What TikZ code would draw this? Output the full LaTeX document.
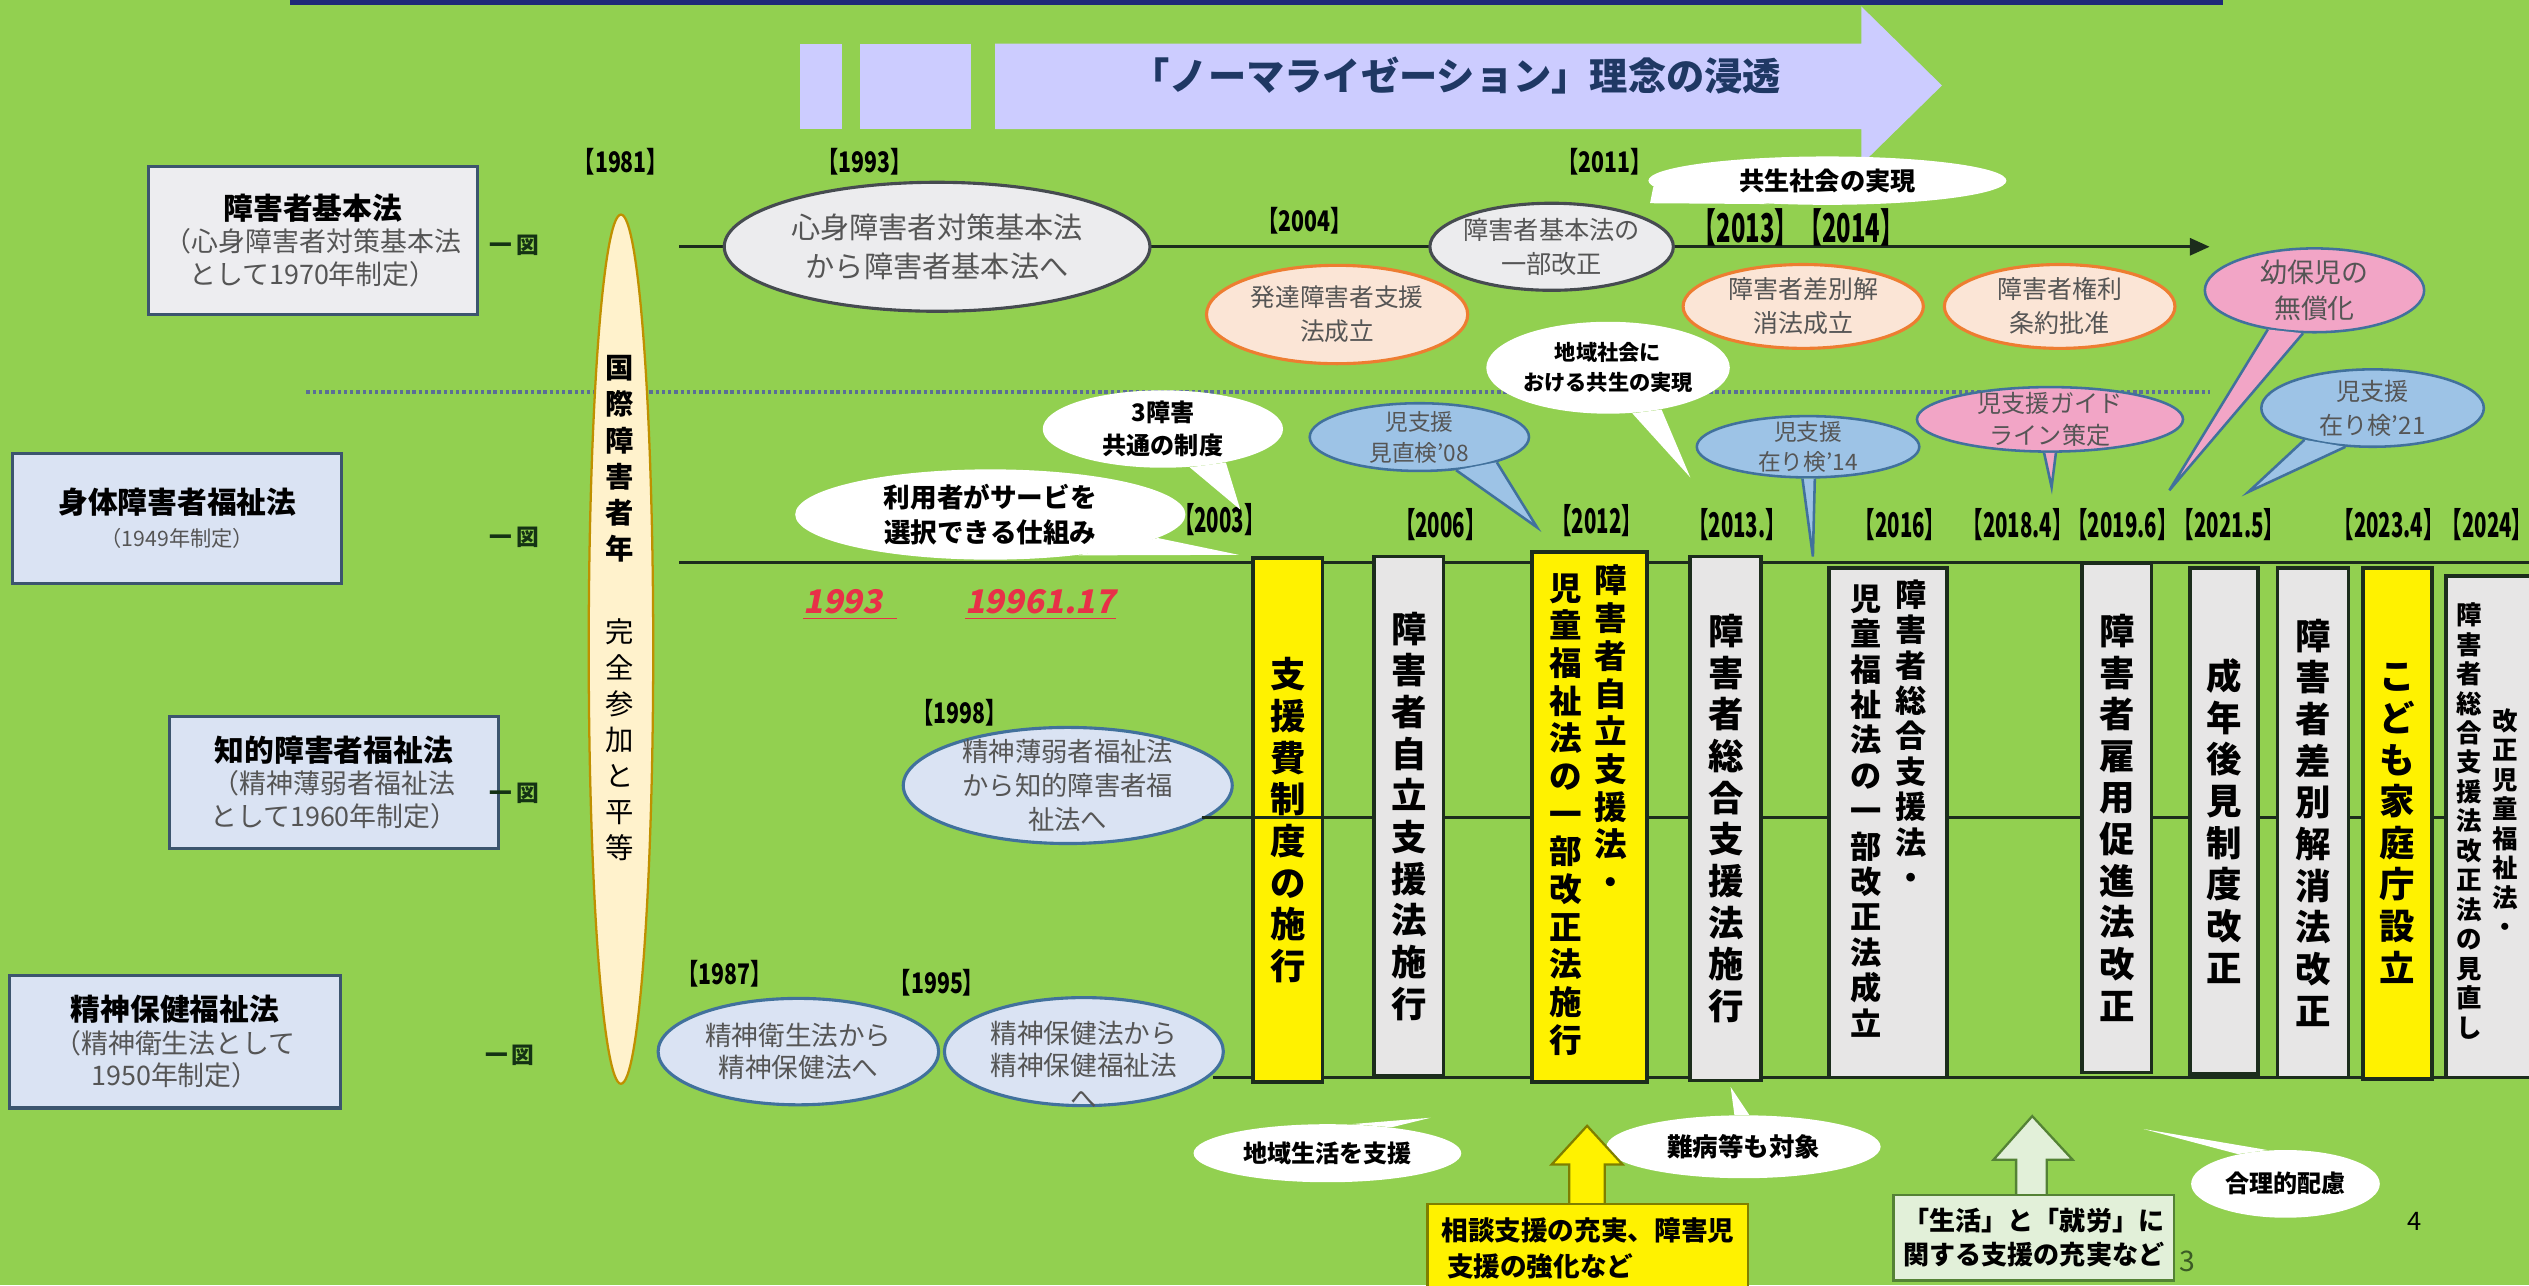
\documentclass[tikz,border=0pt]{standalone}
\usepackage{fontspec}
\setmainfont{Noto Sans CJK JP}
\newfontfamily\yrw[FakeStretch=0.75]{Noto Sans CJK JP}
\newfontfamily\yrn[FakeStretch=0.6]{Noto Sans CJK JP}
\newfontfamily\redit[FakeSlant=0.2]{Noto Sans CJK JP}
\usetikzlibrary{shapes.geometric,arrows.meta}

\definecolor{bggreen}{RGB}{146,208,80}
\definecolor{navy}{RGB}{30,42,120}
\definecolor{navytxt}{RGB}{31,56,100}
\definecolor{banner}{RGB}{204,204,255}
\definecolor{boxgray}{RGB}{237,237,240}
\definecolor{boxblue}{RGB}{218,227,243}
\definecolor{lawline}{RGB}{60,85,110}
\definecolor{cream}{RGB}{255,242,204}
\definecolor{gold}{RGB}{191,144,0}
\definecolor{elfill}{RGB}{236,236,238}
\definecolor{elline}{RGB}{70,75,80}
\definecolor{peach}{RGB}{251,229,214}
\definecolor{orangeline}{RGB}{237,125,49}
\definecolor{skyblue}{RGB}{157,195,230}
\definecolor{blueline}{RGB}{65,113,156}
\definecolor{pinkfill}{RGB}{242,165,198}
\definecolor{barline}{RGB}{28,45,28}
\definecolor{bargray}{RGB}{231,230,230}
\definecolor{textgray}{RGB}{85,85,85}
\definecolor{redtxt}{RGB}{232,48,72}
\definecolor{palegreen}{RGB}{226,240,217}
\definecolor{greenline}{RGB}{84,130,53}
\definecolor{olivec}{RGB}{127,127,0}
\definecolor{dotc}{RGB}{90,110,150}
\definecolor{darkmark}{RGB}{20,50,20}

\newcommand{\fz}[2]{\fontsize{#1}{#2}\selectfont}
% vertical text: one character per line
\def\vtscan#1{\ifx#1\relax\else\hbox to 1em{\hss#1\hss}\expandafter\vtscan\fi}
\newcommand{\vt}[1]{\vbox{\vtscan#1\relax}}
% speech bubble: style, name, centre, width, height, tail angles, tail tip
\newcommand{\callout}[8]{\node[ellipse,#1,minimum width=#4cm,minimum height=#5cm] (#2) at (#3) {};
  \path[#1] (#2.#6) -- (#8) -- (#2.#7);}

\tikzset{
  lawgray/.style={draw=lawline,line width=1.1pt,fill=boxgray,inner sep=0pt,align=center,text=textgray,font=\fz{9.5}{11.5}},
  lawblue/.style={lawgray,fill=boxblue},
  elgray/.style={draw=elline,line width=1.1pt,fill=elfill},
  elpeach/.style={draw=orangeline,line width=1.1pt,fill=peach},
  elblue/.style={draw=blueline,line width=1.1pt,fill=boxblue},
  wcall/.style={fill=white},
  bcall/.style={draw=blueline,line width=0.9pt,fill=skyblue},
  pcall/.style={draw=blueline,line width=0.9pt,fill=pinkfill},
  gt/.style 2 args={text=textgray,align=center,inner sep=0pt,font=\fz{#1}{#2}},
  bt/.style 2 args={text=black,align=center,inner sep=0pt,font=\fz{#1}{#2}\bfseries},
  vtx/.style 2 args={inner sep=0pt,font=\fz{#1}{#2}\bfseries},
  vtn/.style 2 args={inner sep=0pt,font=\fz{#1}{#2}},
  ybar/.style={draw=barline,line width=1.3pt,fill=yellow,inner sep=0pt,font=\fz{12.5}{14.7}\bfseries},
  gbar/.style={ybar,fill=bargray},
  yt/.style={inner sep=0pt,font=\yrw\fz{10}{10}\bfseries},
  yb/.style={inner sep=0pt,font=\yrn\fz{12}{12}\bfseries},
  tl/.style={draw=barline,line width=1.1pt},
  dashbox/.style={inner sep=0pt,text=darkmark,font=\fz{8}{8}\bfseries},
  redyr/.style={inner sep=0pt,text=redtxt,font=\redit\fz{11.5}{12}\bfseries},
}

\begin{document}
\begin{tikzpicture}[x=0.02cm,y=-0.02cm]
  \useasboundingbox (0,0) rectangle (1568,797);
  \fill[bggreen] (0,0) rectangle (1568,797);
  \fill[navy] (180,-3) rectangle (1378,3);

  % banner
  \fill[banner] (496,27) rectangle (522,80);
  \fill[banner] (533,27) rectangle (602,80);
  \fill[banner] (617,27) -- (1154,27) -- (1154,4) -- (1204,53) -- (1154,102) -- (1154,80) -- (617,80) -- cycle;
  \node[text=navytxt,font=\fz{13.5}{14}\bfseries] (norm) at (903,47) {「ノーマライゼーション」理念の浸透};

  % time lines
  \coordinate (d0) at (190,243); \coordinate (d1) at (1370,243);
  \draw[dotc,densely dotted,line width=1.2pt] (d0) -- (d1);
  \coordinate (t0) at (421,153); \coordinate (t1) at (1370,153);
  \draw[tl,-{Triangle[length=7pt,width=6pt]}] (t0) -- (t1);
  \coordinate (s0) at (421,349); \coordinate (s1) at (1580,349);
  \draw[tl] (s0) -- (s1);
  \coordinate (m0) at (745,507); \coordinate (m1) at (1580,507); \coordinate (m2) at (852,507);
  \draw[tl] (m0) -- (m1);
  \coordinate (u0) at (752,668); \coordinate (u1) at (1580,668);
  \draw[tl] (u0) -- (u1);

  % laws
  \node[lawgray,minimum width=4.08cm,minimum height=1.84cm] (kihon) at (194,149)
    {{\color{black}\fz{10.5}{13}\bfseries 障害者基本法}\\（心身障害者対策基本法\\として1970年制定）};
  \node[lawblue,minimum width=4.08cm,minimum height=1.62cm] (shintai) at (110,321.5)
    {{\color{black}\fz{10.5}{13}\bfseries 身体障害者福祉法}\\{\fz{7.5}{9}（1949年制定）}};
  \node[lawblue,minimum width=4.08cm,minimum height=1.64cm] (chiteki) at (207,485)
    {{\color{black}\fz{10.5}{13}\bfseries 知的障害者福祉法}\\（精神薄弱者福祉法\\として1960年制定）};
  \node[lawblue,minimum width=4.1cm,minimum height=1.64cm] (seishin) at (108.5,646)
    {{\color{black}\fz{10.5}{13}\bfseries 精神保健福祉法}\\（精神衛生法として\\1950年制定）};
  \node[dashbox] (k1) at (319,152) {一\,図};
  \node[dashbox] (k2) at (319,333) {一\,図};
  \node[dashbox] (k3) at (319,492) {一\,図};
  \node[dashbox] (k4) at (316,654) {一\,図};

  % international year
  \node[ellipse,draw=gold,line width=0.8pt,fill=cream,minimum width=0.8cm,minimum height=10.78cm] (iyp) at (385,402.5) {};
  \node[vtx={10}{12.8},anchor=north] (iypa) at (384,220) {\vt{国際障害者年}};
  \node[vtn={10}{12.7},anchor=north] (iypb) at (384,383) {\vt{完全参加と平等}};

  % upper events
  \node[ellipse,elgray,minimum width=5.28cm,minimum height=1.6cm] (e1993) at (581,153) {};
  \node[gt={10.3}{13.6}] (e1993t) at (e1993) {心身障害者対策基本法\\から障害者基本法へ};
  \node[ellipse,elpeach,minimum width=3.24cm,minimum height=1.22cm] (e2004) at (829,195) {};
  \node[gt={8.7}{12}] (e2004t) at (e2004) {発達障害者支援\\法成立};
  \node[ellipse,elgray,minimum width=3.02cm,minimum height=1.08cm] (e2011) at (962,153) {};
  \node[gt={8.9}{12}] (e2011t) at (e2011) {障害者基本法の\\一部改正};
  \node[ellipse,elpeach,minimum width=2.98cm,minimum height=1.04cm] (e2013) at (1118,190) {};
  \node[gt={8.8}{12}] (e2013t) at (e2013) {障害者差別解\\消法成立};
  \node[ellipse,elpeach,minimum width=2.86cm,minimum height=1.04cm] (e2014) at (1277,190) {};
  \node[gt={8.8}{12}] (e2014t) at (e2014) {障害者権利\\条約批准};

  % years
  \node[yt] (y1981) at (385,100) {【1981】};
  \node[yt] (y1993) at (536,100) {【1993】};
  \node[yt] (y2004) at (809,137) {【2004】};
  \node[yt] (y2011) at (995,100) {【2011】};
  \node[yb,font=\yrn\fz{14}{14}\bfseries] (y2013) at (1115,141) {【2013】【2014】};
  \node[yt] (y1998) at (595,442) {【1998】};
  \node[yt] (y1987) at (449,604) {【1987】};
  \node[yt] (y1995) at (581,609) {【1995】};
  \node[yb] (y2003) at (756,322) {【2003】};
  \node[yb] (y2006) at (893,325) {【2006】};
  \node[yb] (y2012) at (990,323) {【2012】};
  \node[yb] (y2013b) at (1077,325) {【2013.】};
  \node[yb] (y2016) at (1178,325) {【2016】};
  \node[yb] (y2018) at (1251,325) {【2018.4】};
  \node[yb] (y2019) at (1316,325) {【2019.6】};
  \node[yb] (y2021) at (1382,325) {【2021.5】};
  \node[yb] (y2023) at (1481,325) {【2023.4】};
  \node[yb] (y2024) at (1542,325) {【2024】};

  % bubbles
  \callout{wcall}{ckyosei}{1133,112}{4.44}{0.6}{-178}{-158}{1023,126}
  \node[bt={8.9}{11}] (ckyoseit) at (ckyosei) {共生社会の実現};
  \callout{pcall}{cmusho}{1435,180}{2.72}{1.04}{-140}{-105}{1345,304}
  \node[gt={9.5}{13}] (cmushot) at (cmusho) {幼保児の\\無償化};
  \callout{wcall}{c3}{721,266}{2.98}{0.96}{-55}{-28}{769,316}
  \node[bt={8.5}{11.5}] (c3t) at (c3) {3障害\\共通の制度};
  \callout{wcall}{cuser}{614,319}{4.84}{1.12}{-25}{-8}{768,344}
  \node[bt={9.4}{12.5}] (cusert) at (cuser) {利用者がサービを\\選択できる仕組み};
  \callout{bcall}{cmina}{880,271}{2.72}{0.84}{-42}{-18}{953,327}
  \node[gt={8}{11}] (cminat) at (cmina) {児支援\\見直検'08};
  \callout{wcall}{cchiiki}{997,228}{3.02}{1.14}{-62}{-38}{1048,296}
  \node[bt={7.5}{10.5}] (cchiikit) at (cchiiki) {地域社会に\\おける共生の実現};
  \callout{bcall}{czai14}{1121,277}{2.76}{0.76}{-100}{-78}{1124,345}
  \node[gt={8}{10.5}] (czai14t) at (czai14) {児支援\\在り検'14};
  \callout{pcall}{cguide}{1271,260}{3.3}{0.8}{-100}{-80}{1272,302}
  \node[gt={8.5}{11}] (cguidet) at (cguide) {児支援ガイド\\ライン策定};
  \callout{bcall}{czai21}{1471,253}{2.76}{0.96}{-155}{-125}{1394,305}
  \node[gt={8.5}{12}] (czai21t) at (czai21) {児支援\\在り検'21};

  % lower events
  \node[ellipse,elblue,minimum width=4.08cm,minimum height=1.44cm] (e1998) at (662,487) {};
  \node[gt={9.3}{11.9}] (e1998t) at (e1998) {精神薄弱者福祉法\\から知的障害者福\\祉法へ};
  \node[ellipse,elblue,minimum width=3.48cm,minimum height=1.32cm] (e1987) at (495,652) {};
  \node[gt={9.4}{11.4}] (e1987t) at (e1987) {精神衛生法から\\精神保健法へ};
  \node[ellipse,elblue,minimum width=3.46cm,minimum height=1.34cm] (e1995) at (672,652) {};
  \node[gt={9.4}{11.4}] (e1995t) at (672,660) {精神保健法から\\精神保健福祉法\\へ};

  \node[redyr] (r1993) at (527,375) {\underline{1993\hspace{5pt}}};
  \node[redyr] (r1996) at (645,375) {\underline{19961.17}};

  % bars
  \node[ybar,minimum width=0.86cm,minimum height=6.5cm] (b1) at (798.5,508.5) {\vt{支援費制度の施行}};
  \node[gbar,minimum width=0.86cm,minimum height=6.44cm] (b2) at (873.5,506) {\vt{障害者自立支援法施行}};
  \node[ybar,minimum width=1.42cm,minimum height=6.58cm] (b3) at (985.5,506.5) {};
  \node[gbar,minimum width=0.88cm,minimum height=6.5cm] (b4) at (1070,507.5) {\vt{障害者総合支援法施行}};
  \node[gbar,minimum width=1.46cm,minimum height=6.32cm] (b5) at (1170.5,510) {};
  \node[gbar,minimum width=0.86cm,minimum height=6.32cm] (b6) at (1312.5,507) {\vt{障害者雇用促進法改正}};
  \node[gbar,minimum width=0.84cm,minimum height=6.28cm] (b7) at (1379,509) {\vt{成年後見制度改正}};
  \node[gbar,minimum width=0.88cm,minimum height=6.32cm] (b8) at (1434,510) {\vt{障害者差別解消法改正}};
  \node[ybar,minimum width=0.86cm,minimum height=6.34cm] (b9) at (1486.5,510.5) {\vt{こども家庭庁設立}};
  \node[gbar,minimum width=1.26cm,minimum height=6.22cm] (b10) at (1548,512.5) {};
  \node[vtx={11.5}{13.3},anchor=north] (b3r) at (999,350) {\vt{障害者自立支援法・}};
  \node[vtx={11.5}{13.3},anchor=north] (b3l) at (971,355) {\vt{児童福祉法の一部改正法施行}};
  \node[vtx={11}{12.5},anchor=north] (b5r) at (1185,359) {\vt{障害者総合支援法・}};
  \node[vtx={11}{12.5},anchor=north] (b5l) at (1157,362) {\vt{児童福祉法の一部改正法成立}};
  \node[vtx={9}{10.4}] (b10l) at (1531,509) {\vt{障害者総合支援法改正法の見直し}};
  \node[vtx={9}{10.4}] (b10r) at (1553,510) {\vt{改正児童福祉法・}};
  \draw[tl] (m0) -- (m2);

  % bottom notes
  \callout{wcall}{csien}{823,715}{3.32}{0.72}{22}{50}{887,693}
  \node[bt={8.5}{11}] (csient) at (csien) {地域生活を支援};
  \callout{wcall}{cnanbyo}{1081,711}{3.4}{0.78}{80}{106}{1073,674}
  \node[bt={9}{11}] (cnanbyot) at (cnanbyo) {難病等も対象};
  \callout{wcall}{cgori}{1417,734}{2.34}{0.84}{118}{148}{1329,700}
  \node[bt={8.5}{11}] (cgorit) at (cgori) {合理的配慮};

  \draw[draw=olivec,fill=yellow,line width=0.8pt] (973,750) -- (973,722) -- (962,722) -- (984,698) -- (1006,722) -- (995,722) -- (995,750);
  \node[draw=olivec,fill=yellow,line width=0.8pt,minimum width=3.98cm,minimum height=1.1cm,align=left,font=\fz{9.4}{12.5}\bfseries] (sodan) at (984.5,774)
    {相談支援の充実、障害児\\\hspace{2pt}支援の強化など};
  \draw[draw=greenline,fill=palegreen,line width=0.8pt] (1250,742) -- (1250,719) -- (1236,719) -- (1260,692) -- (1285,719) -- (1269,719) -- (1269,742);
  \node[draw=greenline,fill=palegreen,line width=0.8pt,minimum width=3.48cm,minimum height=1.06cm,align=left,font=\fz{9.2}{12}\bfseries] (shuro) at (1261,767.5)
    {「生活」と「就労」に\\関する支援の充実など};
  \node[text=greenline!70!black,font=\fz{10}{10}] (p3) at (1356,782) {3};
  \node[font=\fz{9}{9}] (p4) at (1497,757) {4};
\end{tikzpicture}
\end{document}
